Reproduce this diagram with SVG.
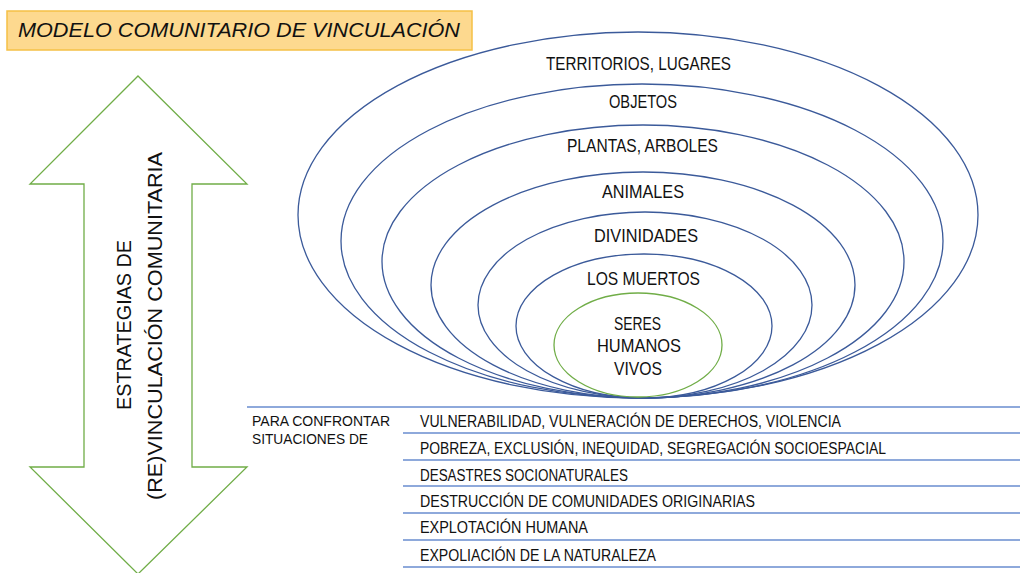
<svg xmlns="http://www.w3.org/2000/svg" width="1020" height="573" viewBox="0 0 1020 573">
<style>
.t{font-family:"Liberation Sans",Arial,sans-serif;fill:#111111}
.lbl{font-size:17.5px;text-anchor:middle}
.row{font-size:16px}
.ring{fill:none;stroke:#3B5A9A;stroke-width:1.3}
.rule{stroke:#8EA9DB;stroke-width:2}
</style>
<rect width="1020" height="573" fill="#ffffff"/>
<g id="title">
<rect x="7" y="11" width="465" height="39" fill="#FDD98F" stroke="#F5C046" stroke-width="1.5"/>
<text class="t" x="18" y="37" font-size="20" font-style="italic" textLength="442" lengthAdjust="spacingAndGlyphs">MODELO COMUNITARIO DE VINCULACIÓN</text>
</g>
<g id="arrow">
<polygon points="138,76 247,184 192,184 192,467 247,467 138,574 30,467 84,467 84,184 30,184" fill="#ffffff" stroke="#70AD47" stroke-width="1.3"/>
<text class="t" transform="translate(131,325) rotate(-90)" font-size="20.5" text-anchor="middle" textLength="170" lengthAdjust="spacingAndGlyphs">ESTRATEGIAS DE</text>
<text class="t" transform="translate(162,326) rotate(-90)" font-size="20.5" text-anchor="middle" textLength="348" lengthAdjust="spacingAndGlyphs">(RE)VINCULACIÓN COMUNITARIA</text>
</g>
<g id="rings">
<g id="ring-territorios"><ellipse class="ring" cx="638" cy="215" rx="340" ry="183"/><text class="t lbl" x="638.5" y="70" textLength="185" lengthAdjust="spacingAndGlyphs">TERRITORIOS, LUGARES</text></g>
<g id="ring-objetos"><ellipse class="ring" cx="642" cy="241" rx="301" ry="157"/><text class="t lbl" x="643" y="108" textLength="68" lengthAdjust="spacingAndGlyphs">OBJETOS</text></g>
<g id="ring-plantas"><ellipse class="ring" cx="643" cy="261.5" rx="261" ry="136.5"/><text class="t lbl" x="642.5" y="152" textLength="151" lengthAdjust="spacingAndGlyphs">PLANTAS, ARBOLES</text></g>
<g id="ring-animales"><ellipse class="ring" cx="643" cy="285" rx="212" ry="113"/><text class="t lbl" x="643" y="198" textLength="82" lengthAdjust="spacingAndGlyphs">ANIMALES</text></g>
<g id="ring-divinidades"><ellipse class="ring" cx="645" cy="305" rx="167" ry="93"/><text class="t lbl" x="646" y="242" textLength="104" lengthAdjust="spacingAndGlyphs">DIVINIDADES</text></g>
<g id="ring-muertos"><ellipse class="ring" cx="644" cy="326" rx="128" ry="72"/><text class="t lbl" x="643.5" y="285" textLength="113" lengthAdjust="spacingAndGlyphs">LOS MUERTOS</text></g>
<g id="ring-seres"><ellipse cx="638" cy="345" rx="84" ry="52" fill="none" stroke="#70AD47" stroke-width="1.3"/>
<text class="t lbl" x="637.5" y="330" textLength="47" lengthAdjust="spacingAndGlyphs">SERES</text>
<text class="t lbl" x="639" y="352" textLength="84" lengthAdjust="spacingAndGlyphs">HUMANOS</text>
<text class="t lbl" x="638" y="375" textLength="48" lengthAdjust="spacingAndGlyphs">VIVOS</text></g>
</g>
<g id="connectors">
<line class="rule" x1="247" y1="407" x2="1020" y2="407"/>
<line class="rule" x1="403" y1="433" x2="1020" y2="433"/>
<line class="rule" x1="403" y1="460" x2="1020" y2="460"/>
<line class="rule" x1="403" y1="486" x2="1020" y2="486"/>
<line class="rule" x1="403" y1="513" x2="1020" y2="513"/>
<line class="rule" x1="403" y1="540" x2="1020" y2="540"/>
<line class="rule" x1="403" y1="567" x2="1020" y2="567"/>
</g>
<g id="table">
<g id="intro"><text class="t" x="252" y="426" font-size="14" textLength="138" lengthAdjust="spacingAndGlyphs">PARA CONFRONTAR</text>
<text class="t" x="252" y="444" font-size="14" textLength="116" lengthAdjust="spacingAndGlyphs">SITUACIONES DE</text></g>
<g id="row1"><text class="t row" x="420" y="427" textLength="421" lengthAdjust="spacingAndGlyphs">VULNERABILIDAD, VULNERACIÓN DE DERECHOS, VIOLENCIA</text></g>
<g id="row2"><text class="t row" x="420" y="454" textLength="466" lengthAdjust="spacingAndGlyphs">POBREZA, EXCLUSIÓN, INEQUIDAD, SEGREGACIÓN SOCIOESPACIAL</text></g>
<g id="row3"><text class="t row" x="420" y="481" textLength="208" lengthAdjust="spacingAndGlyphs">DESASTRES SOCIONATURALES</text></g>
<g id="row4"><text class="t row" x="420" y="507" textLength="335" lengthAdjust="spacingAndGlyphs">DESTRUCCIÓN DE COMUNIDADES ORIGINARIAS</text></g>
<g id="row5"><text class="t row" x="420" y="533" textLength="168" lengthAdjust="spacingAndGlyphs">EXPLOTACIÓN HUMANA</text></g>
<g id="row6"><text class="t row" x="420" y="561" textLength="236" lengthAdjust="spacingAndGlyphs">EXPOLIACIÓN DE LA NATURALEZA</text></g>
</g>
</svg>
